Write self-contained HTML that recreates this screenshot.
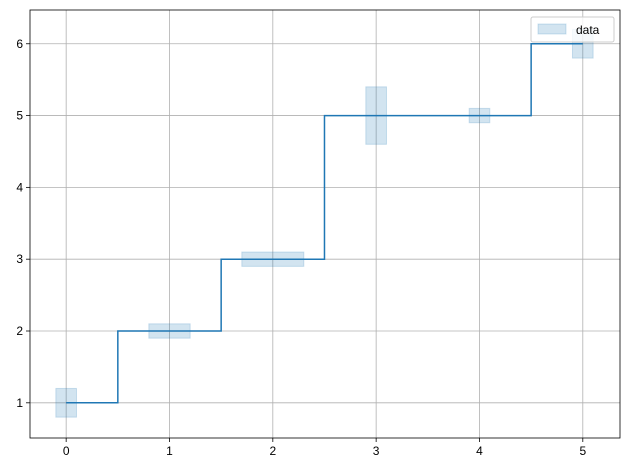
<!DOCTYPE html>
<html><head><meta charset="utf-8"><style>body{margin:0;background:#fff}svg{display:block;font-family:"Liberation Sans",sans-serif}</style></head>
<body>
<svg id="c" width="630" height="470"></svg>
<script>
const xs=[0,1,2,3,4,5];
const ys=[1,2,3,5,5,6];
const xerr=[0.1,0.2,0.3,0.1,0.1,0.1];
const yerr=[0.2,0.1,0.1,0.4,0.1,0.2];
const xTicks=[0,1,2,3,4,5];
const yTicks=[1,2,3,4,5,6];
const L=30,R=620,T=10,B=438;
const x0=-0.35,x1=5.36,y0=0.51,y1=6.47;
const X=v=>L+(v-x0)/(x1-x0)*(R-L);
const Y=v=>B-(v-y0)/(y1-y0)*(B-T);
const s=document.getElementById('c');const N='http://www.w3.org/2000/svg';
function e(t,a,p){const el=document.createElementNS(N,t);for(const k in a)el.setAttribute(k,a[k]);(p||s).appendChild(el);return el;}
const g=e('g',{});


xTicks.forEach(v=>{e('line',{x1:X(v),x2:X(v),y1:T,y2:B,stroke:'#b0b0b0','stroke-width':0.8},g);
const t=e('text',{x:X(v),y:B+17,'text-anchor':'middle','font-size':12});t.textContent=v;


e('line',{x1:X(v),x2:X(v),y1:B,y2:B+4,stroke:'#000','stroke-width':0.8});});
yTicks.forEach(v=>{e('line',{x1:L,x2:R,y1:Y(v),y2:Y(v),stroke:'#b0b0b0','stroke-width':0.8},g);
const t=e('text',{x:L-7,y:Y(v)+4,'text-anchor':'end','font-size':12});t.textContent=v;


e('line',{x1:L-4,x2:L,y1:Y(v),y2:Y(v),stroke:'#000','stroke-width':0.8});});
xs.forEach((v,i)=>{const r=e('rect',{x:X(v-xerr[i]),y:Y(ys[i]+yerr[i]),width:X(v+xerr[i])-X(v-xerr[i]),height:Y(ys[i]-yerr[i])-Y(ys[i]+yerr[i]),fill:'#1f77b4','fill-opacity':0.2,stroke:'#1f77b4','stroke-opacity':0.2});

});
let d='M'+X(xs[0])+','+Y(ys[0]);
for(let i=1;i<xs.length;i++){const m=(xs[i-1]+xs[i])/2;d+='L'+X(m)+','+Y(ys[i-1])+'L'+X(m)+','+Y(ys[i]);}
d+='L'+X(xs[xs.length-1])+','+Y(ys[ys.length-1]);
const p=e('path',{d:d,fill:'none',stroke:'#1f77b4','stroke-width':1.5});


const f=e('rect',{x:L,y:T,width:R-L,height:B-T,fill:'none',stroke:'#000','stroke-width':0.8});


const lg=e('g',{});


e('rect',{x:531,y:17,width:83,height:25,rx:2,fill:'#fff','fill-opacity':0.8,stroke:'#ccc'},lg);
e('rect',{x:538,y:24,width:28,height:10,fill:'#1f77b4','fill-opacity':0.2,stroke:'#1f77b4','stroke-opacity':0.2},lg);
const lt=e('text',{x:576,y:34,'font-size':12},lg);lt.textContent='data';
</script>
</body></html>
